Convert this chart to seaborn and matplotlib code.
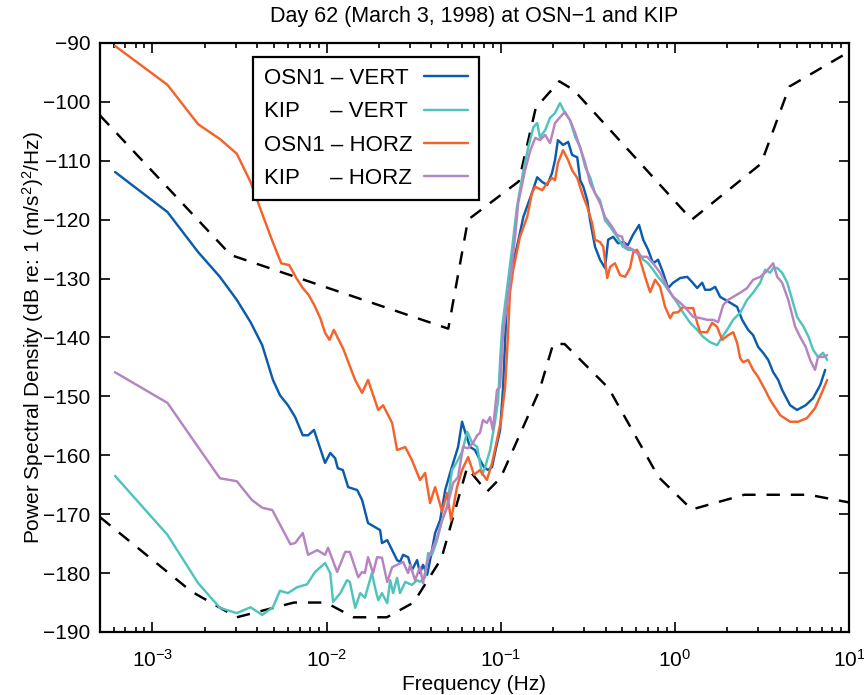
import numpy as np
import pandas as pd
import matplotlib
matplotlib.use("Agg")
import matplotlib.pyplot as plt
from matplotlib.ticker import LogLocator, NullFormatter
from matplotlib.lines import Line2D
import seaborn as sns

# ---------------- data ----------------
# Peterson high / low noise models (breakpoints)
nhnm_f = [0.0005, 0.00282, 0.05, 0.0649, 0.127, 0.159, 0.217, 0.263, 1.25, 3.125, 4.545, 10.0]
nhnm_db = [-102.3, -126.0, -138.5, -120.0, -113.5, -101.0, -96.5, -98.0, -120.0, -110.5, -97.4, -91.5]

nlnm_f = [0.0005, 0.00167, 0.00305, 0.0065, 0.0099, 0.0143, 0.0222, 0.0316, 0.0457, 0.0641,
          0.0833, 0.1, 0.1667, 0.2, 0.2326, 0.4167, 0.806, 1.25, 2.5, 5.88, 10.0]
nlnm_db = [-170.5, -183.1, -187.5, -185.0, -185.0, -187.5, -187.5, -185.0, -177.5, -162.1,
           -166.2, -163.8, -149.0, -141.1, -141.1, -148.6, -163.7, -169.2, -166.7, -166.7, -168.0]

# OSN1 - VERT
osn1_vert_f = [0.00061, 0.00122, 0.00183, 0.00244, 0.00305, 0.00366, 0.00427, 0.00492, 0.0054, 0.006,
               0.0066, 0.0073, 0.00783, 0.00847, 0.0098, 0.0105, 0.0112, 0.0116, 0.0124, 0.0133,
               0.015, 0.016, 0.0173, 0.019, 0.0203, 0.0208, 0.0223, 0.0238, 0.0254, 0.0264,
               0.0275, 0.0294, 0.0309, 0.0331, 0.0344, 0.0358, 0.0378, 0.0393, 0.042, 0.0449,
               0.048, 0.0512, 0.0533, 0.0569, 0.06, 0.0624, 0.0667, 0.0712, 0.076, 0.0802,
               0.0845, 0.0892, 0.0927, 0.0992, 0.1032, 0.109, 0.116, 0.124, 0.135, 0.144,
               0.151, 0.162, 0.173, 0.185, 0.197, 0.205, 0.213, 0.228, 0.244, 0.257,
               0.275, 0.286, 0.298, 0.314, 0.326, 0.348, 0.372, 0.397, 0.414, 0.442,
               0.472, 0.504, 0.538, 0.574, 0.623, 0.658, 0.702, 0.75, 0.801, 0.856,
               0.914, 0.978, 1.073, 1.177, 1.257, 1.343, 1.435, 1.493, 1.595, 1.704,
               1.82, 1.945, 2.078, 2.278, 2.435, 2.635, 2.814, 3.007, 3.214, 3.435,
               3.67, 3.92, 4.13, 4.59, 5.03, 5.64, 6.22, 6.83, 7.3]
osn1_vert_db = [-111.9, -118.7, -125.5, -129.7, -133.6, -137.4, -141.3, -147.2, -149.8, -151.5,
                -153.5, -156.6, -156.6, -155.7, -161.3, -159.6, -160.5, -162.2, -162.5, -165.4,
                -165.9, -167.6, -171.5, -172.2, -172.7, -174.9, -174.4, -176.1, -177.8, -178.1,
                -176.9, -177.3, -179.5, -177.8, -180.0, -178.6, -180.3, -177.8, -173.2, -171.0,
                -165.9, -163.0, -161.3, -158.6, -154.3, -156.0, -158.6, -159.1, -160.8, -162.0,
                -162.5, -162.0, -159.6, -155.7, -148.4, -132.4, -128.0, -124.6, -119.5, -117.2,
                -115.5, -112.8, -113.6, -114.1, -112.1, -109.9, -106.5, -107.3, -106.8, -109.0,
                -109.4, -113.3, -114.4, -116.7, -120.1, -124.6, -126.8, -128.2, -123.4, -122.9,
                -124.0, -123.8, -124.3, -122.6, -120.9, -123.4, -125.1, -127.4, -126.8, -129.0,
                -131.6, -130.7, -129.9, -129.7, -130.6, -131.6, -130.7, -131.9, -131.9, -131.4,
                -133.1, -133.6, -134.1, -134.8, -137.0, -138.7, -139.6, -141.6, -142.6, -143.8,
                -145.9, -147.2, -148.9, -151.5, -152.3, -151.5, -150.3, -148.1, -145.5]

# KIP - VERT
kip_vert_f = [0.00061, 0.00122, 0.00183, 0.00244, 0.00305, 0.00366, 0.00427, 0.00492, 0.0054, 0.006,
              0.00677, 0.00773, 0.00859, 0.0098, 0.0105, 0.0109, 0.012, 0.0131, 0.0136, 0.0146,
              0.0156, 0.0166, 0.0182, 0.019, 0.0198, 0.0208, 0.0223, 0.0232, 0.0241, 0.0254,
              0.0264, 0.0283, 0.0309, 0.0331, 0.0344, 0.0368, 0.0383, 0.0403, 0.0431, 0.0461,
              0.0492, 0.0525, 0.0561, 0.06, 0.0642, 0.0686, 0.0733, 0.0782, 0.0814, 0.0869,
              0.0927, 0.0967, 0.0992, 0.102, 0.109, 0.116, 0.124, 0.135, 0.144, 0.154,
              0.162, 0.168, 0.18, 0.192, 0.205, 0.219, 0.234, 0.25, 0.268, 0.286,
              0.306, 0.326, 0.348, 0.372, 0.397, 0.425, 0.466, 0.504, 0.538, 0.577,
              0.616, 0.658, 0.702, 0.75, 0.801, 0.856, 0.939, 1.031, 1.116, 1.224,
              1.343, 1.454, 1.595, 1.749, 1.869, 1.994, 2.162, 2.371, 2.601, 2.814,
              3.09, 3.3, 3.526, 3.67, 3.87, 4.13, 4.42, 4.72, 5.03, 5.49,
              5.86, 6.22, 6.64, 7.1, 7.49]
kip_vert_db = [-163.5, -173.5, -181.7, -185.9, -186.8, -185.8, -187.1, -185.8, -183.0, -183.4,
               -182.4, -181.9, -179.8, -178.3, -180.0, -184.9, -183.4, -181.2, -181.5, -185.9,
               -183.4, -184.2, -180.0, -182.5, -184.6, -183.4, -185.1, -181.2, -183.4, -180.8,
               -183.4, -181.5, -182.0, -181.2, -181.5, -180.7, -176.6, -176.9, -174.4, -171.0,
               -168.8, -162.5, -161.1, -159.4, -156.0, -157.9, -158.6, -163.3, -162.0, -159.1,
               -154.3, -150.6, -143.8, -138.2, -131.4, -125.1, -117.8, -111.6, -107.7, -104.3,
               -103.6, -106.0, -104.8, -102.7, -101.9, -100.2, -101.9, -103.1, -106.0, -107.7,
               -111.1, -112.8, -115.5, -116.7, -120.1, -121.2, -122.9, -124.6, -125.1, -125.1,
               -125.5, -126.8, -127.4, -128.5, -129.7, -130.7, -132.4, -134.1, -135.8, -137.5,
               -138.7, -139.9, -140.8, -141.3, -139.9, -138.7, -137.0, -135.8, -133.6, -132.4,
               -130.7, -128.5, -129.0, -128.2, -128.2, -129.0, -130.7, -133.6, -136.5, -138.2,
               -139.9, -142.1, -143.3, -142.6, -143.8]

# OSN1 - HORZ
osn1_horz_f = [0.00061, 0.00122, 0.00183, 0.00244, 0.00305, 0.00366, 0.00427, 0.00488, 0.00549, 0.0061,
               0.0067, 0.0073, 0.0079, 0.0085, 0.0092, 0.0098, 0.0104, 0.011, 0.0125, 0.01458,
               0.016, 0.0173, 0.0198, 0.0211, 0.0238, 0.0254, 0.0283, 0.0309, 0.0344, 0.0368,
               0.0393, 0.042, 0.0461, 0.0492, 0.0519, 0.0561, 0.06, 0.065, 0.0703, 0.076,
               0.0833, 0.0892, 0.0952, 0.1005, 0.106, 0.11, 0.113, 0.118, 0.129, 0.142,
               0.151, 0.158, 0.173, 0.185, 0.197, 0.205, 0.213, 0.228, 0.244, 0.257,
               0.275, 0.298, 0.314, 0.335, 0.348, 0.372, 0.388, 0.409, 0.425, 0.453,
               0.484, 0.518, 0.553, 0.577, 0.607, 0.649, 0.675, 0.721, 0.77, 0.823,
               0.879, 0.939, 0.978, 1.045, 1.116, 1.177, 1.274, 1.343, 1.398, 1.533,
               1.637, 1.749, 1.869, 2.024, 2.162, 2.278, 2.371, 2.466, 2.635, 2.814,
               3.007, 3.3, 3.526, 4.028, 4.59, 5.1, 5.73, 6.38, 7.0, 7.49]
osn1_horz_db = [-90.5, -97.1, -103.8, -106.3, -108.8, -113.6, -119.0, -123.6, -127.4, -127.7,
                -129.9, -131.6, -132.8, -134.5, -136.7, -139.2, -140.4, -138.7, -142.0, -147.2,
                -149.4, -147.2, -152.3, -151.5, -154.5, -159.1, -158.6, -160.8, -164.2, -163.0,
                -168.1, -165.4, -169.6, -166.4, -171.0, -165.4, -162.5, -160.3, -163.3, -162.5,
                -164.2, -161.3, -157.4, -154.0, -148.4, -139.9, -132.4, -128.5, -122.9, -119.5,
                -115.5, -114.4, -115.0, -113.8, -112.9, -113.3, -110.4, -108.2, -109.9, -111.6,
                -112.9, -116.1, -117.8, -120.6, -123.4, -123.8, -124.6, -129.9, -128.0, -127.4,
                -129.4, -129.7, -128.2, -125.5, -125.1, -128.0, -129.7, -132.3, -130.2, -131.4,
                -134.8, -136.7, -135.8, -135.7, -134.8, -135.0, -135.0, -137.5, -139.1, -139.1,
                -137.5, -138.2, -140.4, -139.6, -139.1, -140.9, -143.5, -144.2, -143.8, -145.5,
                -146.7, -148.9, -150.6, -153.2, -154.3, -154.3, -153.7, -152.0, -149.3, -147.2]

# KIP - HORZ
kip_horz_f = [0.00061, 0.00122, 0.00183, 0.00244, 0.00305, 0.00373, 0.00427, 0.00488, 0.0062, 0.0066,
              0.0073, 0.00783, 0.00884, 0.0098, 0.0102, 0.0115, 0.0128, 0.0136, 0.0152, 0.016,
              0.0166, 0.0173, 0.0185, 0.0195, 0.0208, 0.0223, 0.0238, 0.0254, 0.0275, 0.0294,
              0.0302, 0.0322, 0.0344, 0.0358, 0.0378, 0.0403, 0.0431, 0.0461, 0.0492, 0.0533,
              0.0569, 0.0608, 0.065, 0.0693, 0.0733, 0.076, 0.0791, 0.0833, 0.0869, 0.0902,
              0.0952, 0.0992, 0.1032, 0.113, 0.121, 0.126, 0.138, 0.148, 0.158, 0.168,
              0.18, 0.192, 0.205, 0.219, 0.234, 0.25, 0.268, 0.286, 0.306, 0.326,
              0.348, 0.372, 0.397, 0.436, 0.466, 0.497, 0.518, 0.553, 0.607, 0.649,
              0.693, 0.75, 0.823, 0.902, 0.978, 1.073, 1.177, 1.274, 1.398, 1.533,
              1.659, 1.772, 1.894, 2.024, 2.162, 2.371, 2.601, 2.814, 3.09, 3.3,
              3.526, 3.67, 3.87, 4.13, 4.48, 4.91, 5.24, 5.64, 5.98, 6.38,
              6.64, 7.1, 7.49]
kip_horz_db = [-145.9, -151.1, -158.6, -163.9, -164.4, -167.6, -168.9, -169.3, -175.1, -174.9,
               -173.2, -176.9, -176.1, -176.9, -175.7, -179.8, -176.4, -176.4, -180.7, -179.8,
               -180.0, -177.3, -180.0, -177.3, -177.4, -181.5, -179.0, -178.6, -178.1, -180.0,
               -178.6, -181.2, -179.0, -181.7, -178.1, -176.1, -173.9, -171.0, -168.8, -164.7,
               -163.7, -158.6, -158.8, -157.9, -156.6, -156.2, -154.0, -154.5, -153.5, -155.7,
               -148.9, -148.4, -139.2, -130.7, -122.9, -117.2, -111.6, -108.2, -106.1, -106.5,
               -105.6, -107.0, -103.6, -102.6, -101.7, -103.1, -105.3, -107.8, -110.4, -113.8,
               -115.5, -117.2, -119.5, -121.2, -122.6, -122.9, -124.6, -124.8, -125.7, -126.3,
               -126.3, -127.4, -129.0, -131.4, -133.1, -134.1, -135.3, -136.5, -136.7, -137.0,
               -137.0, -137.4, -134.5, -133.6, -133.1, -132.4, -131.6, -130.2, -129.7, -129.0,
               -128.0, -127.4, -129.7, -130.7, -133.6, -138.2, -139.9, -141.6, -143.8, -145.5,
               -143.3, -143.3, -143.0]

series_labels = ["OSN1 \u2013 VERT", "KIP     \u2013 VERT", "OSN1 \u2013 HORZ", "KIP     \u2013 HORZ"]
series_colors = ["#0b5cad", "#4fc4bd", "#f4632a", "#b584c1"]

title_text = "Day 62 (March 3, 1998) at OSN\u22121 and KIP"
xlabel_text = "Frequency (Hz)"
ylabel_text = "Power Spectral Density (dB re: 1 (m/s$^2$)$^2$/Hz)"

# ---------------- style ----------------
sns.set_theme(style="white")
plt.rcParams["font.family"] = ["Liberation Sans", "DejaVu Sans"]
plt.rcParams["mathtext.fontset"] = "custom"
plt.rcParams["mathtext.rm"] = "Liberation Sans"
plt.rcParams["mathtext.it"] = "Liberation Sans:italic"
plt.rcParams["mathtext.default"] = "regular"
plt.rcParams["axes.unicode_minus"] = True
for k in ["text.color", "axes.labelcolor", "xtick.color", "ytick.color"]:
    plt.rcParams[k] = "black"

fig = plt.figure(figsize=(8.64, 6.95), dpi=100)
ax = fig.add_axes([100 / 864, 1 - 632 / 695, 749 / 864, 589 / 695])

lw = 1.75
for f, db in [(nhnm_f, nhnm_db), (nlnm_f, nlnm_db)]:
    sns.lineplot(x=f, y=db, ax=ax, color="black", lw=lw, linestyle=(0, (5.5, 4.5)),
                 sort=False, estimator=None)

data = [(osn1_vert_f, osn1_vert_db), (kip_vert_f, kip_vert_db),
        (osn1_horz_f, osn1_horz_db), (kip_horz_f, kip_horz_db)]
for (f, db), c in zip(data, series_colors):
    sns.lineplot(x=f, y=db, ax=ax, color=c, lw=lw, sort=False, estimator=None)

ax.set_xscale("log")
ax.set_xlim(5e-4, 10)
ax.set_ylim(-190, -90)
ax.set_yticks(np.arange(-190, -89, 10))
ax.xaxis.set_major_locator(LogLocator(base=10, numticks=10))
ax.xaxis.set_minor_locator(LogLocator(base=10, subs=np.arange(2, 10), numticks=20))
ax.xaxis.set_minor_formatter(NullFormatter())

ax.tick_params(which="both", direction="in", top=True, right=True, bottom=True, left=True,
               width=1.2, colors="black", labelsize=15)
ax.tick_params(axis="y", pad=7)
ax.tick_params(axis="x", pad=12)
ax.tick_params(which="major", length=7)
ax.tick_params(which="minor", length=3.5)
for sp in ax.spines.values():
    sp.set_linewidth(1.6)
    sp.set_color("black")

ax.set_title(title_text, fontsize=15.5, pad=15, color="black")
ax.set_xlabel(xlabel_text, fontsize=15, labelpad=3)
ax.set_ylabel(ylabel_text, fontsize=15, labelpad=-2)

handles = [Line2D([0], [0], color=c, lw=lw) for c in series_colors]
leg = ax.legend(handles, series_labels, loc="upper left", bbox_to_anchor=(0.204, 0.976),
                borderaxespad=0, markerfirst=False, fontsize=16, frameon=True, fancybox=False,
                handlelength=2.0, handletextpad=0.5, labelspacing=0.55, borderpad=0.5)
leg.get_frame().set_edgecolor("black")
leg.get_frame().set_linewidth(1.6)
leg.get_frame().set_alpha(1)

# left-align legend labels while keeping the line samples aligned
fig.canvas.draw()
texts = leg.get_texts()
widths = [t.get_window_extent().width for t in texts]
wmax = max(widths)
items = []
for col in leg._legend_handle_box.get_children():
    items.extend(col.get_children())
for item, w in zip(items, widths):
    item.sep = item.sep + (wmax - w) * 72.0 / fig.dpi

fig.savefig("out.png", dpi=100)
